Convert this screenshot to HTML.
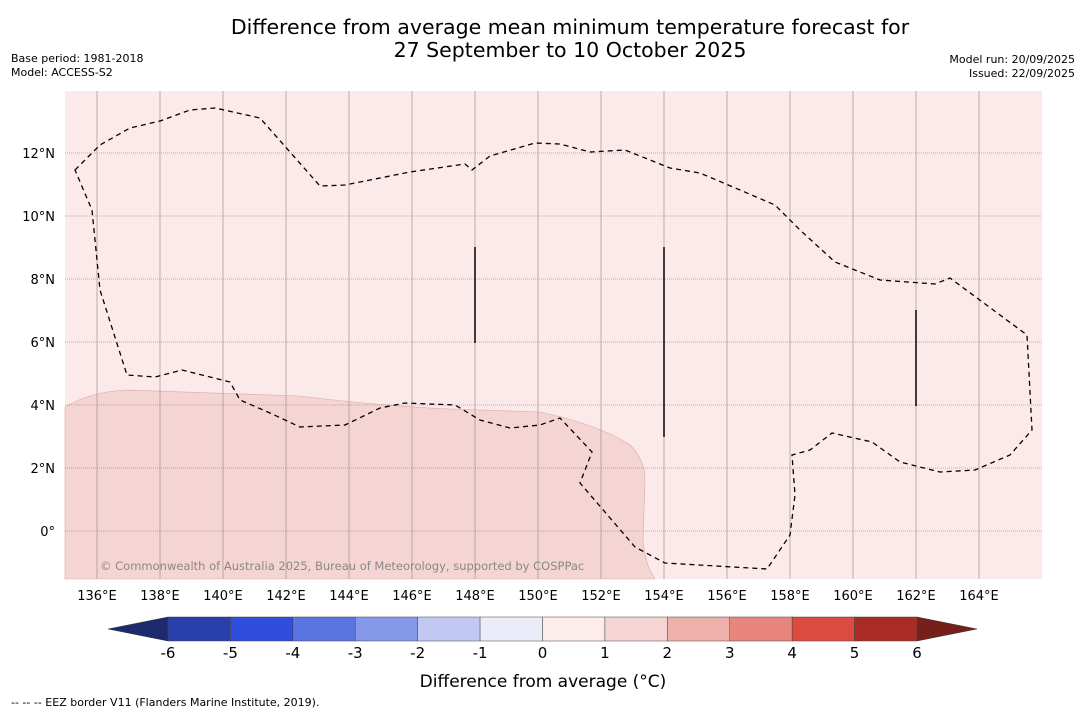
<!DOCTYPE html>
<html><head><meta charset="utf-8"><style>
body{margin:0;background:#fff;font-family:"Liberation Sans","DejaVu Sans",sans-serif;}
svg text{font-family:"DejaVu Sans","Liberation Sans",sans-serif;}
</style></head><body>
<svg id="c" width="1085" height="713" viewBox="0 0 1085 713" xmlns="http://www.w3.org/2000/svg">
<text x="570" y="34" font-size="20.5" text-anchor="middle">Difference from average mean minimum temperature forecast for</text>
<text x="570" y="57" font-size="20.5" text-anchor="middle">27 September to 10 October 2025</text>
<text x="11" y="62" font-size="11">Base period: 1981-2018</text>
<text x="11" y="76" font-size="11">Model: ACCESS-S2</text>
<text x="1075" y="63" font-size="11" text-anchor="end">Model run: 20/09/2025</text>
<text x="1075" y="77" font-size="11" text-anchor="end">Issued: 22/09/2025</text>
<g id="map">
<rect x="65" y="91" width="977" height="488" fill="#fbeae9"/>
<path d="M65,407 Q90,392 125,390 L300,396 Q380,406 450,409 L540,412 Q600,425 630,445 Q645,460 645,480 L643,540 Q645,565 655,579 L65,579 Z" fill="#f5d5d4" stroke="#d9a9a8" stroke-width="0.6"/>
<g id="grid"></g>
<path d="M75,170 L100,145 L130,128 L160,121 L190,110 L215,108 L260,118 L320,186 L345,185 L410,172 L465,164 L472,170 L490,156 L535,143 L560,144 L590,152 L625,150 L670,168 L700,173 L740,190 L775,205 L800,230 L835,262 L880,280 L935,284 L950,278 L1000,315 L1027,335 L1032,430 L1010,455 L975,470 L940,472 L900,462 L872,442 L832,433 L810,450 L792,455 L795,495 L790,535 L767,569 L665,563 L635,547 L580,483 L592,452 L560,418 L540,425 L510,428 L480,420 L455,405 L405,403 L380,408 L345,425 L300,427 L270,413 L240,400 L230,382 L182,370 L155,377 L127,375 L100,290 L92,210 L75,170 Z" fill="none" stroke="#000" stroke-width="1.3" stroke-dasharray="5,4"/>
<g stroke="#000" stroke-width="1.5">
<line x1="475" y1="247" x2="475" y2="343"/><line x1="664" y1="247" x2="664" y2="437"/><line x1="916" y1="310" x2="916" y2="406"/>
</g>
<text x="100" y="570" font-size="11.5" fill="#888">© Commonwealth of Australia 2025, Bureau of Meteorology, supported by COSPPac</text>
</g>
<g id="xt"></g>
<g id="cb"></g>
<text x="543" y="687" font-size="17" text-anchor="middle">Difference from average (°C)</text>
<text x="11" y="706" font-size="11">-- -- -- EEZ border V11 (Flanders Marine Institute, 2019).</text>
</svg>
<script>
const lonTicks=[136,138,140,142,144,146,148,150,152,154,156,158,160,162,164];
const latTicks=[0,2,4,6,8,10,12];
const cbValues=[-6,-5,-4,-3,-2,-1,0,1,2,3,4,5,6];
const cbColors=["#293fab","#2f4ede","#5a74e2","#8698ea","#c1c9f3","#eaecfa","#fcecea","#f5d5d4","#eeb0aa","#e8867e","#db4b40","#a82b24"];
const NS="http://www.w3.org/2000/svg";
const X=l=>97+(l-136)*31.5, Y=a=>531-a*31.5;
const grid=document.getElementById('grid'), xt=document.getElementById('xt'), cb=document.getElementById('cb');
function mk(p,t,a){const e=document.createElementNS(NS,t);for(const k in a)e.setAttribute(k,a[k]);p.appendChild(e);return e;}
lonTicks.forEach(l=>{
 const ln=mk(grid,'line',{x1:X(l),x2:X(l),y1:91,y2:579,stroke:'#a09090','stroke-width':0.7});
 
 
 const t=mk(xt,'text',{x:X(l),y:600,'font-size':13,'text-anchor':'middle'});t.textContent=l+'°E';
 
 
});
latTicks.forEach(a=>{
 const ln=mk(grid,'line',{x1:65,x2:1042,y1:Y(a),y2:Y(a),stroke:'#777','stroke-width':0.6,'stroke-dasharray':'1,1'});
 
 
 const t=mk(xt,'text',{x:55,y:Y(a)+5,'font-size':13,'text-anchor':'end'});t.textContent=a===0?'0°':a+'°N';
 
 
});
const C0=168,CW=(917-168)/12,CB=cb=>C0+(cb+6)*CW;
mk(cb,'polygon',{points:`108,629 ${C0},617 ${C0},641`,fill:'#1c2a6e',stroke:'#333','stroke-width':0.5});
mk(cb,'polygon',{points:`977,629 917,617 917,641`,fill:'#76201b',stroke:'#333','stroke-width':0.5});
cbColors.forEach((c,i)=>{
 const r=mk(cb,'rect',{x:CB(cbValues[i]),y:617,width:CW,height:24,fill:c,stroke:'#444','stroke-width':0.5});
 
 
});
cbValues.forEach(v=>{
 const t=mk(cb,'text',{x:CB(v),y:658,'font-size':15,'text-anchor':'middle'});t.textContent=v;
 
 
});
</script>
</body></html>
